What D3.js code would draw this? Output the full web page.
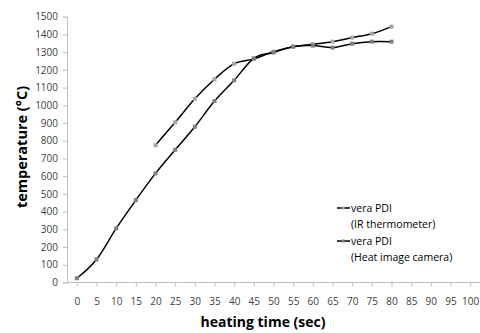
<!DOCTYPE html>
<html><head><meta charset="utf-8">
<script src="https://cdn.jsdelivr.net/npm/d3@7/dist/d3.min.js"></script>
<style>body{margin:0;background:#fff}svg{display:block}</style>
</head><body>
<svg id="c" width="480" height="333"></svg>
<script>
const categories = [0,5,10,15,20,25,30,35,40,45,50,55,60,65,70,75,80,85,90,95,100];
const yTicks = [0,100,200,300,400,500,600,700,800,900,1000,1100,1200,1300,1400,1500];
const irTime = [20,25,30,35,40,45,50,55,60,65,70,75,80];
const irTemp = [775,904,1037,1147,1235,1262,1303,1331,1345,1359,1382,1404,1444];
const camTime = [0,5,10,15,20,25,30,35,40,45,50,55,60,65,70,75,80];
const camTemp = [24,130,305,465,616,749,879,1024,1141,1265,1298,1331,1337,1326,1348,1359,1359];
const seriesNames = [["vera PDI","(IR thermometer)"],["vera PDI","(Heat image camera)"]];

(function(){
const svg = d3.select("#c");
const mL = 67, mR = 480, mT = 16.7, mB = 282.5;
const x = d3.scalePoint().domain(categories).range([mL, mR]).padding(0.5);
const y = d3.scaleLinear().domain([0,1500]).range([mB, mT]);
const font = "'Open Sans', 'Liberation Sans', sans-serif";

// y axis
const ya = svg.append("g").attr("transform",`translate(${mL},0)`)
  .call(d3.axisLeft(y).tickValues(yTicks).tickFormat(d3.format("d")).tickSize(4).tickPadding(5));
ya.select(".domain").attr("stroke","#bfbfbf");
ya.selectAll(".tick line").attr("stroke","#bfbfbf");
ya.selectAll("text").attr("fill","#404040").style("font-family",font).style("font-size","10px");

// x axis
const xa = svg.append("g").attr("transform",`translate(0,${mB})`)
  .call(d3.axisBottom(x).tickSize(4).tickPadding(11).tickSizeOuter(0));
xa.select(".domain").attr("stroke","#bfbfbf").attr("d",`M${mL},0H${mR}`);
xa.selectAll(".tick line").attr("stroke","#bfbfbf");
xa.selectAll("text").attr("fill","#404040").style("font-family",font).style("font-size","10px");

// titles
svg.append("text").attr("x",263).attr("y",327).attr("text-anchor","middle")
  .style("font-family",font).style("font-weight","bold").style("font-size","14px").attr("fill","#000")
  .text("heating time (sec)");
svg.append("text").attr("transform","translate(27,147) rotate(-90)").attr("text-anchor","middle")
  .style("font-family",font).style("font-weight","bold").style("font-size","14.5px").attr("fill","#000")
  .text("temperature (°C)");

const line = d3.line().x(d=>x(d[0])).y(d=>y(d[1])).curve(d3.curveCardinal.tension(0));
const series = [
  {t:irTime, v:irTemp, mk:"#a6a6a6"},
  {t:camTime, v:camTemp, mk:"#7f7f7f"}
];
series.forEach(s=>{
  const pts = s.t.map((t,i)=>[t,s.v[i]]);
  svg.append("path").datum(pts).attr("d",line).attr("fill","none").attr("stroke","#000").attr("stroke-width",1.5);
  svg.append("g").selectAll("rect").data(pts).join("rect")
    .attr("x",d=>x(d[0])-2).attr("y",d=>y(d[1])-2).attr("width",4).attr("height",4).attr("fill",s.mk);
});

// legend
const lg = svg.append("g");
[[208,224],[241,257]].forEach((yy,i)=>{
  lg.append("line").attr("x1",337).attr("x2",350).attr("y1",yy[0]).attr("y2",yy[0]).attr("stroke","#000").attr("stroke-width",1.5);
  lg.append("rect").attr("x",341.5).attr("y",yy[0]-1.5).attr("width",3).attr("height",3).attr("fill",series[i].mk);
  lg.append("text").attr("x",351).attr("y",yy[0]+3.8).style("font-family",font).style("font-size","10.5px").attr("fill","#000").text(seriesNames[i][0]);
  lg.append("text").attr("x",351).attr("y",yy[1]+3.8).style("font-family",font).style("font-size","10.5px").attr("fill","#000").text(seriesNames[i][1]);
});
})();
</script>
</body></html>
